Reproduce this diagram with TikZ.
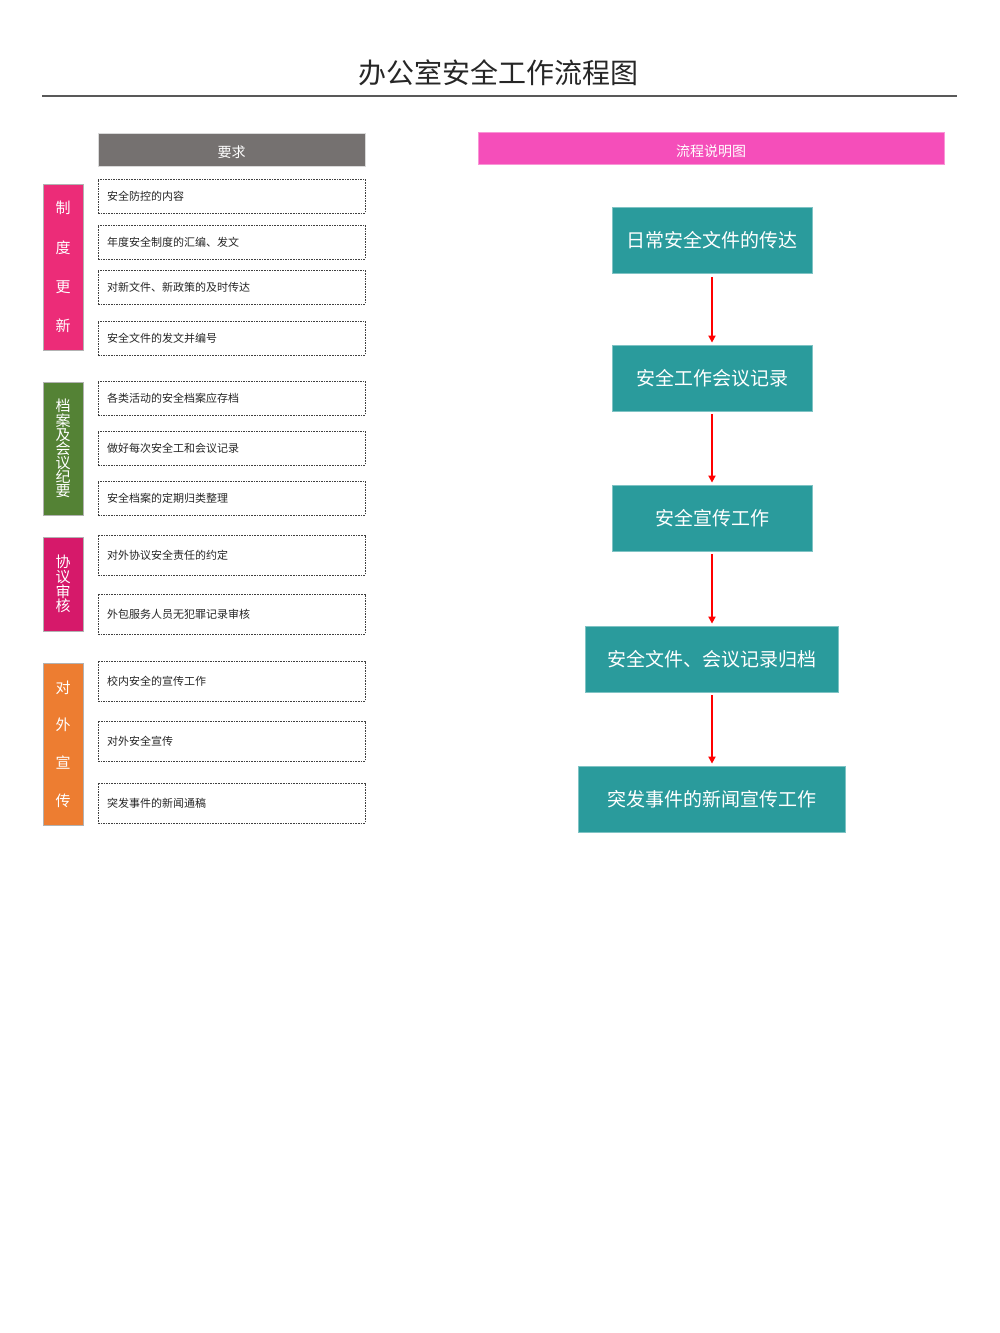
\documentclass[tikz,border=0pt]{standalone}
\usepackage{fontspec}
\setmainfont{Noto Sans CJK SC}
\usetikzlibrary{positioning, arrows.meta}
\definecolor{hdrgray}{HTML}{757170}
\definecolor{hdrpink}{HTML}{F54EBA}
\definecolor{catred}{HTML}{EC2C78}
\definecolor{catgreen}{HTML}{548235}
\definecolor{catmag}{HTML}{D6196A}
\definecolor{catorange}{HTML}{ED7D31}
\definecolor{flowteal}{HTML}{2A9B9C}
\tikzset{
  title/.style={
      font=\fontsize{28}{30}\selectfont,
      text=black!85
    },
  hdr/.style={
      rectangle,
      draw=black!15,
      inner sep=0pt,
      text height=16pt,
      text depth=0pt,
      text=white,
      font=\fontsize{14}{16}\selectfont
    },
  cat/.style={
      rectangle,
      draw=white!70!black,
      line width=0.6pt,
      inner sep=0pt,
      minimum width=40pt,
      text=white,
      align=center
    },
  item/.style={
      rectangle,
      draw=black!75,
      dash pattern=on 1.6pt off 1pt,
      line width=0.8pt,
      text width=249pt,
      inner xsep=9pt,
      inner ysep=0pt,
      align=left,
      text=black!85,
      font=\fontsize{11}{13}\selectfont
    },
  flow/.style={
      rectangle,
      fill=flowteal,
      draw=flowteal!60!white,
      line width=0.8pt,
      inner sep=0pt,
      minimum height=66pt,
      text=white,
      font=\fontsize{19}{21}\selectfont
    },
  arr/.style={
      -{Triangle[length=7pt,width=7pt]},
      red,
      line width=1.8pt,
      shorten <=3pt,
      shorten >=2pt
    }
}
\begin{document}
\begin{tikzpicture}[x=1pt, y=-1pt]
  \useasboundingbox (0,0) rectangle (1000,1333);
  % title and rule
  \node[title] (ttl) at (498,73) {办公室安全工作流程图};
  \coordinate (ruleL) at (42,96); \coordinate (ruleR) at (957,96);
  \draw[black!65, line width=1.3pt] (ruleL) -- (ruleR);
  % headers
  \node[hdr, fill=hdrgray, minimum width=267pt, minimum height=33pt] (req) at (231.5,149.5) {要求};
  \node[hdr, fill=hdrpink, draw=hdrpink!60!white, minimum width=466pt, minimum height=32pt] (chart) at (711,148) {流程说明图};
  % categories
  \node[cat, fill=catred, minimum height=166pt, font=\fontsize{15}{39.3}\selectfont] (zd) at (63,267) {制\\度\\更\\新};
  \node[cat, fill=catgreen, minimum height=133pt, font=\fontsize{15}{13.8}\selectfont] (da) at (63,448.5) {档\\案\\及\\会\\议\\纪\\要};
  \node[cat, fill=catmag, minimum height=94pt, font=\fontsize{15}{14.7}\selectfont] (xy) at (63,584) {协\\议\\审\\核};
  \node[cat, fill=catorange, minimum height=162pt, font=\fontsize{15}{37.7}\selectfont] (dw) at (63,744) {对\\外\\宣\\传};
  % requirement items
  \foreach \y/\h/\t [count=\i] in {
      196/34/安全防控的内容,
      242/34/年度安全制度的汇编、发文,
      287/34/对新文件、新政策的及时传达,
      338/34/安全文件的发文并编号,
      398/34/各类活动的安全档案应存档,
      448/34/做好每次安全工和会议记录,
      498/34/安全档案的定期归类整理,
      555/40/对外协议安全责任的约定,
      614/40/外包服务人员无犯罪记录审核,
      681/40/校内安全的宣传工作,
      741/40/对外安全宣传,
      803/40/突发事件的新闻通稿}
    \node[item, minimum height=\h pt] (r\i) at (231.5,\y) {\t};
  % flow
  \node[flow, minimum width=200pt] (f1) at (712,240.5) {日常安全文件的传达};
  \node[flow, minimum width=200pt] (f2) at (712,378) {安全工作会议记录};
  \node[flow, minimum width=200pt] (f3) at (712,518) {安全宣传工作};
  \node[flow, minimum width=253pt] (f4) at (712,659) {安全文件、会议记录归档};
  \node[flow, minimum width=267pt] (f5) at (712,799) {突发事件的新闻宣传工作};
  \foreach \a/\b in {f1/f2, f2/f3, f3/f4, f4/f5}
    \draw[arr] (\a.south) -- (\b.north);
\end{tikzpicture}
\end{document}
